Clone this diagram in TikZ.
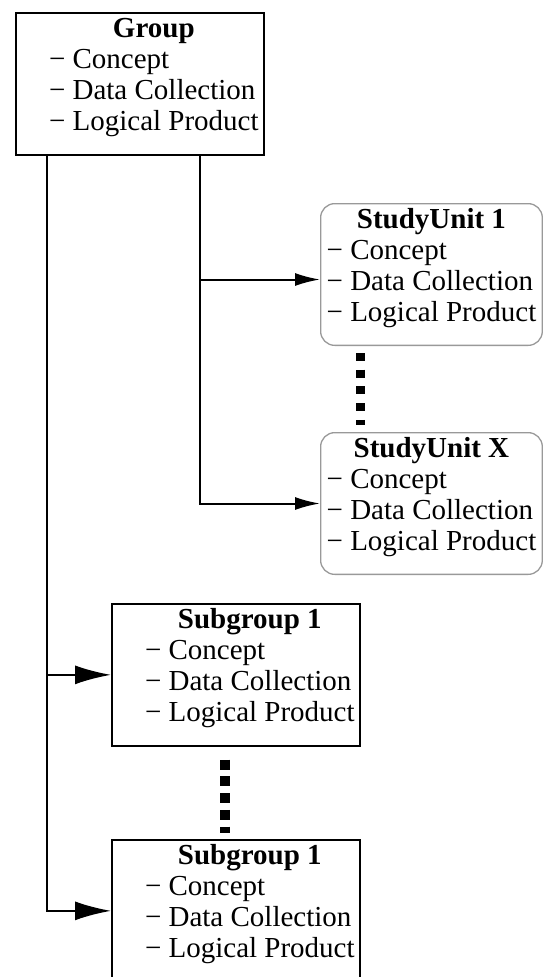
\documentclass[tikz,border=0pt]{standalone}
\usepackage{fontspec}
\setmainfont{Liberation Serif}
\usetikzlibrary{arrows.meta}
\tikzstyle{unit}=[draw=black, line width=2pt, anchor=north west, inner xsep=5pt, inner ysep=3pt, font=\fontsize{29}{31}\selectfont]
\tikzstyle{study}=[unit, draw=black!40, line width=1.3pt, rounded corners=14pt, inner xsep=6pt]
\tikzstyle{conn}=[line width=2pt, -{Latex[length=25pt,width=13pt]}]
\tikzstyle{bigconn}=[line width=2pt, -{Latex[length=36pt,width=19pt]}]
\tikzstyle{dots}=[line width=9pt, dash pattern=on 8pt off 8.7pt]
\newcommand{\unitlines}[1]{\begin{tabular}{@{}l@{}}\multicolumn{1}{@{}c@{}}{\textbf{#1}}\\ − Concept\\ − Data Collection\\ − Logical Product\rule[-21pt]{0pt}{1pt}\end{tabular}}

\begin{document}
\begin{tikzpicture}[x=1pt, y=-1pt]
		\useasboundingbox (0,0) rectangle (543,977);
		\clip (0,0) rectangle (543,977);
		\node[unit] (group) at (15,12) {\hspace*{28pt}\unitlines{Group}};
		\node[study] (su1) at (320,203) {\unitlines{StudyUnit 1}};
		\node[study] (sux) at (320,432) {\unitlines{StudyUnit X}};
		\node[unit] (sg1) at (111,603) {\hspace*{28pt}\unitlines{Subgroup 1}};
		\node[unit] (sgx) at (111,839) {\hspace*{28pt}\unitlines{Subgroup 1}};
		\coordinate (L) at ([xshift=32pt]group.south west);
		\coordinate (R) at ([xshift=185pt]group.south west);
		\draw[conn] (R) |- ([yshift=-5pt]su1.west);
		\draw[conn] (R) |- (sux.west);
		\draw[bigconn] (L) |- (sg1.west);
		\draw[bigconn] (L) |- (sgx.west);
		\draw[dots, shorten <=7pt, shorten >=7pt] ([xshift=40pt]su1.south west) -- ([xshift=40pt]sux.north west);
		\draw[dots, line width=9.5pt, dash pattern=on 10pt off 6.75pt, shorten <=13pt, shorten >=6pt] ([xshift=114pt]sg1.south west) -- ([xshift=114pt]sgx.north west);
\end{tikzpicture}
\end{document}
